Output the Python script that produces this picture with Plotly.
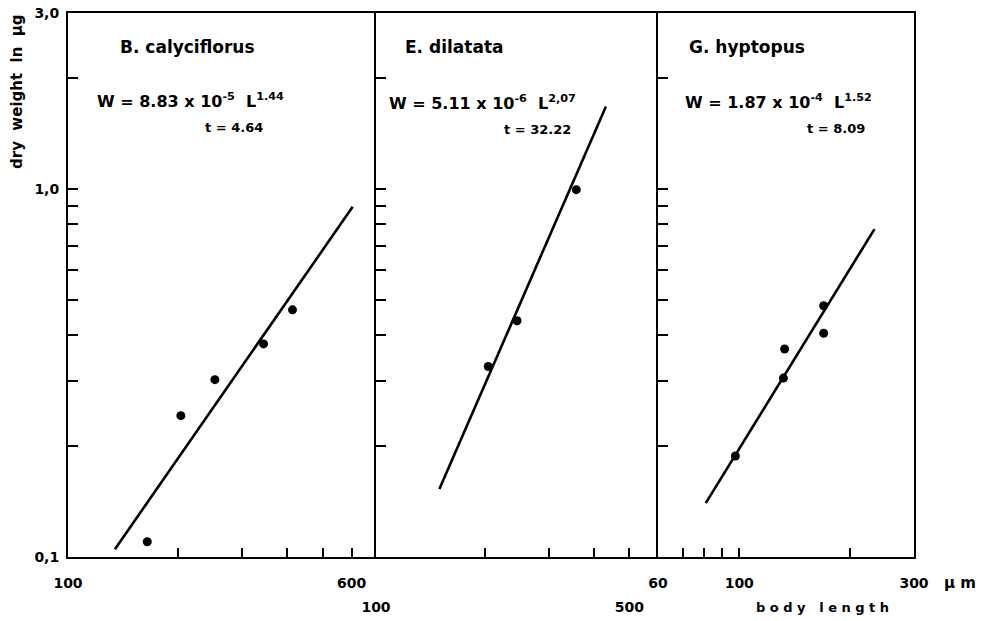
import math
import plotly.graph_objects as go

# ---------------- data ----------------
b_len = [165, 204, 253, 344, 413]
b_wt = [0.110, 0.242, 0.303, 0.379, 0.469]
b_fit_len = [134.5, 604]
b_fit_wt = [0.105, 0.893]

e_len = [204, 245, 357]
e_wt = [0.329, 0.438, 0.994]
e_fit_len = [149.6, 431]
e_fit_wt = [0.153, 1.673]

g_len = [97.6, 132, 133, 170, 170]
g_wt = [0.188, 0.306, 0.367, 0.405, 0.481]
g_fit_len = [81, 234]
g_fit_wt = [0.140, 0.777]

y_tickvals = [0.1, 0.2, 0.3, 0.4, 0.5, 0.6, 0.7, 0.8, 0.9, 1.0, 2.0, 3.0]
y_ticktext = ["0,1", "", "", "", "", "", "", "", "", "1,0", "", "3,0"]

x1_tickvals = [100, 200, 300, 400, 500, 600]
x1_ticktext = ["100", "", "", "", "", "600"]
x2_tickvals = [100, 200, 300, 400, 500]
x2_ticktext = ["100", "", "", "", "500"]
x3_tickvals = [60, 70, 80, 90, 100, 200, 300]
x3_ticktext = ["60", "", "", "", "100", "", "300"]

x_ranges = [(100, 700), (100, 600), (60, 300)]
y_range = (0.1, 3.0)

titles = ["B. calyciflorus", "E. dilatata", "G. hyptopus"]
equations = [
    "W = 8.83 x 10<sup>-5</sup>  L<sup>1.44</sup>",
    "W = 5.11 x 10<sup>-6</sup>  L<sup>2,07</sup>",
    "W = 1.87 x 10<sup>-4</sup>  L<sup>1.52</sup>",
]
t_values = ["t = 4.64", "t = 32.22", "t = 8.09"]

# ---------------- figure ----------------
W, H = 995, 621
FONT = "DejaVu Sans"

def px(x):
    return x / W

def py(y):
    return 1 - y / H

fig = go.Figure()

series = [
    (b_len, b_wt, b_fit_len, b_fit_wt, "x", "y"),
    (e_len, e_wt, e_fit_len, e_fit_wt, "x2", "y2"),
    (g_len, g_wt, g_fit_len, g_fit_wt, "x3", "y3"),
]
for lx, ly, fx, fy, xa, ya in series:
    fig.add_trace(go.Scatter(x=fx, y=fy, mode="lines", xaxis=xa, yaxis=ya,
                             line=dict(color="black", width=2.6),
                             showlegend=False, hoverinfo="skip"))
    fig.add_trace(go.Scatter(x=lx, y=ly, mode="markers", xaxis=xa, yaxis=ya,
                             marker=dict(color="black", size=9),
                             showlegend=False))

domains = [(68, 376), (376, 658), (658, 914)]
x_ticks = [(x1_tickvals, x1_ticktext), (x2_tickvals, x2_ticktext), (x3_tickvals, x3_ticktext)]
standoffs = [12, 36, 12]

common_axis = dict(showline=True, linecolor="black", linewidth=2,
                   ticks="inside", tickcolor="black", tickwidth=2,
                   showgrid=False, zeroline=False, type="log", automargin=False,
                   tickfont=dict(family=FONT, size=14, color="black", weight="bold"))

layout = dict(
    width=W, height=H, margin=dict(l=0, r=0, t=0, b=0, autoexpand=False),
    paper_bgcolor="white", plot_bgcolor="white", showlegend=False,
)
for i in range(3):
    sx = "" if i == 0 else str(i + 1)
    tv, tt = x_ticks[i]
    lo, hi = x_ranges[i]
    layout["xaxis" + sx] = dict(
        common_axis, mirror=True,
        domain=[px(domains[i][0]), px(domains[i][1])],
        range=[math.log10(lo), math.log10(hi)],
        tickvals=tv, ticktext=tt, ticklen=9,
        anchor="y" + sx, ticklabelstandoff=standoffs[i],
    )
    layout["yaxis" + sx] = dict(
        common_axis, mirror=(i == 2),
        domain=[py(557), py(13)],
        range=[math.log10(y_range[0]), math.log10(y_range[1])],
        tickvals=y_tickvals, ticktext=y_ticktext, ticklen=10,
        anchor="x" + sx, showticklabels=(i == 0),
        ticklabelstandoff=4,
    )
    if i > 0:
        layout["yaxis" + sx]["matches"] = "y"
fig.update_layout(**layout)

# ---------------- text ----------------
title_pos = [(118, 47), (403, 47), (687, 47)]
eq_pos = [(95, 100), (387, 102), (683, 101)]
t_pos = [(203, 127), (502, 129), (805, 128)]

for i in range(3):
    fig.add_annotation(text=titles[i], xref="paper", yref="paper",
                       x=px(title_pos[i][0]), y=py(title_pos[i][1]),
                       xanchor="left", yanchor="middle", showarrow=False,
                       font=dict(family=FONT, size=17, color="black", weight="bold"))
    fig.add_annotation(text=equations[i], xref="paper", yref="paper",
                       x=px(eq_pos[i][0]), y=py(eq_pos[i][1]),
                       xanchor="left", yanchor="middle", showarrow=False,
                       font=dict(family=FONT, size=16, color="black", weight="bold"))
    fig.add_annotation(text=t_values[i], xref="paper", yref="paper",
                       x=px(t_pos[i][0]), y=py(t_pos[i][1]),
                       xanchor="left", yanchor="middle", showarrow=False,
                       font=dict(family=FONT, size=13, color="black", weight="bold"))

fig.add_annotation(text="dry  weight  ln  µg", xref="paper", yref="paper",
                   x=px(17), y=py(92), textangle=-90, showarrow=False,
                   xanchor="center", yanchor="middle",
                   font=dict(family=FONT, size=15, color="black", weight="bold"))
fig.add_annotation(text="µ m", xref="paper", yref="paper",
                   x=px(960), y=py(583), showarrow=False,
                   xanchor="center", yanchor="middle",
                   font=dict(family=FONT, size=15, color="black", weight="bold"))
fig.add_annotation(text="b o d y   l e n g t h", xref="paper", yref="paper",
                   x=px(822), y=py(607), showarrow=False,
                   xanchor="center", yanchor="middle",
                   font=dict(family=FONT, size=13, color="black", weight="bold"))

fig.write_html("out.html")
